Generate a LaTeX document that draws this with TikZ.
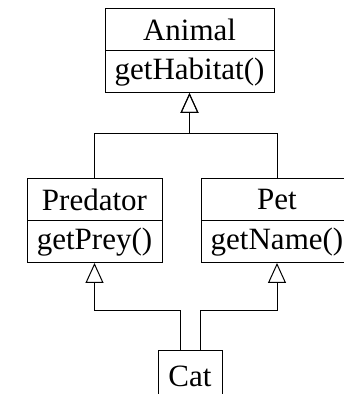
\documentclass[tikz,border=0pt]{standalone}
\usepackage{fontspec}
\setmainfont{Liberation Serif}
\usetikzlibrary{positioning, arrows.meta}

\tikzset{
	classbox/.style={draw, line width=1pt, minimum height=42pt, inner sep=0pt, outer sep=0pt, font=\fontsize{31}{36}\selectfont},
	inherit/.style={line width=1pt, -{Triangle[open, length=20pt, width=18pt]}}
}

\begin{document}
\begin{tikzpicture}[x=1pt, y=1pt]
			\useasboundingbox (0, 0) rectangle (344, 394);
			\clip (0, 0) rectangle (344, 394);
			\node[classbox, minimum width=169pt, anchor=north] (animal) at (189.5, 385) {Animal};
			\node[classbox, minimum width=169pt, below=0pt of animal] (animalops) {getHabitat()};
			\node[classbox, minimum width=135pt, anchor=north] (predator) at (94.5, 215) {Predator};
			\node[classbox, minimum width=135pt, below=0pt of predator] (predatorops) {getPrey()};
			\node[classbox, minimum width=152pt, anchor=north] (pet) at (277, 215) {Pet};
			\node[classbox, minimum width=152pt, below=0pt of pet] (petops) {getName()};
			\node[classbox, minimum width=64pt, minimum height=50pt, anchor=north] (cat) at (190, 43) {Cat};
			\draw [inherit] (predator.north) -- ++(0, 45) -| (animalops.south);
			\draw [inherit] (pet.north) -- ++(0, 45) -| (animalops.south);
			\draw [inherit] ([xshift=-10pt]cat.north) -- ++(0, 40) -| (predatorops.south);
			\draw [inherit] ([xshift=10pt]cat.north) -- ++(0, 40) -| (petops.south);
		\end{tikzpicture}
\end{document}
